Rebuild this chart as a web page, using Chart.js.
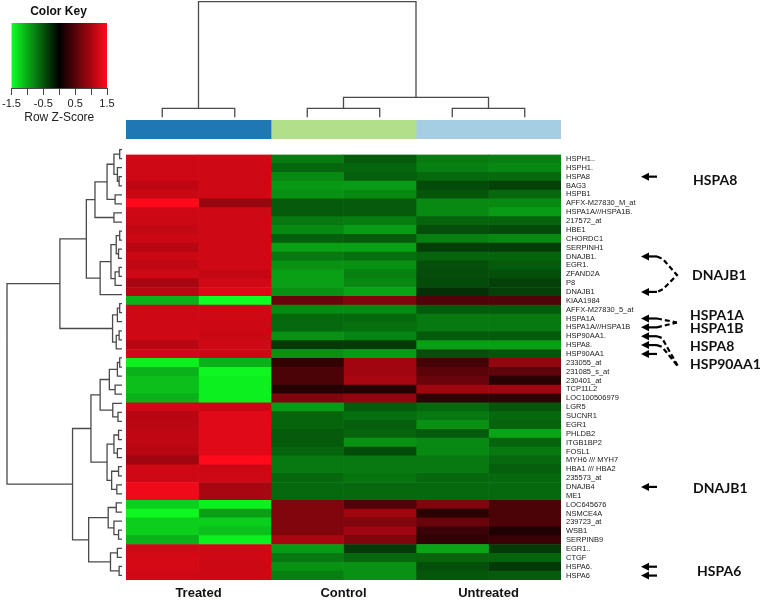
<!DOCTYPE html>
<html>
<head>
<meta charset="utf-8">
<script src="https://cdn.jsdelivr.net/npm/chart.js@4.4.0/dist/chart.umd.min.js"></script>
<style>
  html, body { margin: 0; padding: 0; background: #fff; }
  body { width: 761px; height: 601px; position: relative; overflow: hidden; }
  canvas { position: absolute; }
  #keyChart { left: 0; top: 0; }
  #colTreeChart { left: 126px; top: 0; }
  #groupChart { left: 126px; top: 120px; }
  #rowTreeChart { left: 0; top: 145px; }
  #heatChart { left: 126px; top: 145px; }
</style>
</head>
<body>
<canvas id="keyChart" width="125" height="125"></canvas>
<canvas id="colTreeChart" width="435" height="119"></canvas>
<canvas id="groupChart" width="435" height="19"></canvas>
<canvas id="rowTreeChart" width="126" height="435"></canvas>
<canvas id="heatChart" width="635" height="456"></canvas>
<script>
// gene rows, top to bottom
const rowLabels = ['HSPH1..', 'HSPH1.', 'HSPA8', 'BAG3', 'HSPB1', 'AFFX-M27830_M_at', 'HSPA1A///HSPA1B.',
  '217572_at', 'HBE1', 'CHORDC1', 'SERPINH1', 'DNAJB1.', 'EGR1.', 'ZFAND2A', 'P8', 'DNAJB1', 'KIAA1984',
  'AFFX-M27830_5_at', 'HSPA1A', 'HSPA1A///HSPA1B', 'HSP90AA1.', 'HSPA8.', 'HSP90AA1', '233055_at',
  '231085_s_at', '230401_at', 'TCP11L2', 'LOC100506979', 'LGR5', 'SUCNR1', 'EGR1', 'PHLDB2', 'ITGB1BP2',
  'FOSL1', 'MYH6 /// MYH7', 'HBA1 /// HBA2', '235573_at', 'DNAJB4', 'ME1', 'LOC645676', 'NSMCE4A',
  '239723_at', 'WSB1', 'SERPINB9', 'EGR1..', 'CTGF', 'HSPA6.', 'HSPA6'];

// row z-scores, one array per sample column
const treated1 = [1.22, 1.22, 1.22, 1.12, 1.18, 1.50, 1.22, 1.20, 1.15, 1.20, 1.08, 1.18, 1.12, 1.22, 0.99, 1.08,
  -1.04, 1.22, 1.22, 1.22, 1.22, 1.08, 1.22, -1.41, -1.04, -1.13, -1.13, -1.04, 1.22, 1.08, 1.10, 1.12, 1.12,
  1.08, 0.94, 1.22, 1.22, 1.41, 1.41, -1.22, -1.45, -1.22, -1.22, -1.04, 1.22, 1.25, 1.25, 1.22];
const treated2 = [1.22, 1.22, 1.22, 1.22, 1.22, 0.88, 1.22, 1.22, 1.22, 1.22, 1.22, 1.22, 1.22, 1.15, 1.22, 1.30,
  -1.50, 1.22, 1.22, 1.20, 1.18, 1.22, 1.20, -1.04, -1.45, -1.41, -1.41, -1.41, 1.18, 1.32, 1.32, 1.32, 1.32,
  1.32, 1.50, 1.18, 1.22, 0.99, 0.99, -1.41, -0.94, -1.22, -1.13, -1.41, 1.22, 1.22, 1.20, 1.20];
const control1 = [-0.72, -0.60, -0.81, -0.90, -0.85, -0.53, -0.53, -0.71, -0.81, -0.56, -0.94, -0.71, -0.85, -0.94,
  -0.94, -0.85, 0.62, -0.81, -0.62, -0.62, -0.85, -0.34, -0.85, 0.30, 0.44, 0.44, 0.22, 0.75, -0.91, -0.59,
  -0.59, -0.53, -0.53, -0.59, -0.71, -0.71, -0.62, -0.62, -0.62, 0.75, 0.75, 0.75, 0.75, 0.99, -0.91, -0.71,
  -0.85, -0.75];
const control2 = [-0.53, -0.60, -0.56, -0.91, -0.81, -0.53, -0.53, -0.73, -0.91, -0.53, -0.94, -0.66, -0.85, -0.75,
  -0.81, -0.96, 0.75, -0.81, -0.62, -0.66, -0.78, -0.34, -0.91, 0.94, 0.94, 0.99, 0.22, 0.85, -0.53, -0.66,
  -0.56, -0.59, -0.85, -0.44, -0.71, -0.71, -0.69, -0.62, -0.62, 0.47, 0.94, 0.75, 0.94, 0.75, -0.34, -0.62,
  -0.85, -0.85];
const untreated1 = [-0.72, -0.75, -0.62, -0.44, -0.50, -0.81, -0.81, -0.59, -0.47, -0.75, -0.36, -0.59, -0.47, -0.45,
  -0.44, -0.28, 0.47, -0.53, -0.71, -0.71, -0.53, -0.94, -0.45, 0.40, 0.53, 0.62, 0.94, 0.28, -0.62, -0.71,
  -0.85, -0.53, -0.81, -0.81, -0.71, -0.71, -0.62, -0.62, -0.62, 0.75, 0.25, 0.62, 0.34, 0.28, -0.97, -0.59,
  -0.47, -0.50];
const untreated2 = [-0.75, -0.80, -0.62, -0.38, -0.62, -0.81, -0.91, -0.59, -0.44, -0.81, -0.36, -0.59, -0.53, -0.47,
  -0.38, -0.38, 0.47, -0.53, -0.71, -0.71, -0.53, -0.94, -0.50, 0.85, 0.56, 0.25, 0.94, 0.28, -0.50, -0.62,
  -0.59, -0.97, -0.59, -0.71, -0.62, -0.56, -0.62, -0.62, -0.62, 0.44, 0.44, 0.44, 0.19, 0.34, -0.34, -0.59,
  -0.34, -0.53];
const columns = [treated1, treated2, control1, control2, untreated1, untreated2];

// sample groups
const groupNames = ['Treated', 'Control', 'Untreated'];
const groupSizes = [2, 2, 2];
const groupCenters = [1, 3, 5];
const groupColors = ['#1f78b4', '#b2df8a', '#a6cee3'];

// dendrograms: [height, left, right], leaves are row / column indexes
const rowTree = [100,
  [54,
    [31,
      [23.5,
        [13, [7, [2, 0, 1], [4, 2, [2.5, 3, 4]]], [6, 5, 6]],
        [7, 7, 8]],
      [19,
        [9.6, [5, [2, 9, 10], [3, 11, 12]], [6, [2.5, 13, 14], 15]],
        16]],
    [8.2, [4, [2, 17, 18], 19], [5, [2.5, 20, 21], 22]]],
  [43,
    [27,
      [19, [11, [4, [2, 23, 24], 25], [6, 26, 27]], [8, 28, [3.5, 29, 30]]],
      [13, [7, [3, 31, 32], [4, 33, 34]], [9, [3, 35, 36], [4.5, 37, 38]]]],
    [29,
      [12, [5, 39, 40], [7, 41, [3, 42, 43]]],
      [10, [4, 44, 45], [2.5, 46, 47]]]]];
const colTree = [100, [7.8, 0, 1], [17.3, [7.8, 2, 3], [7.8, 4, 5]]];

// colour key
const keyMin = -1.5, keyMax = 1.5;
const keyStops = [-1.5, 0, 1.5];

// gene callouts on the right
const arrowRows = [2, 11, 15, 18, 19, 20, 21, 22, 37, 46, 47];
const noteLabels = [
  { text: 'HSPA8', row: 2.45, dx: 132 },
  { text: 'DNAJB1', row: 13.1, dx: 131 },
  { text: 'HSPA1A', row: 17.7, dx: 129 },
  { text: 'HSPA1B', row: 19.1, dx: 129 },
  { text: 'HSPA8', row: 21.2, dx: 129 },
  { text: 'HSP90AA1', row: 23.2, dx: 129 },
  { text: 'DNAJB1', row: 37.2, dx: 132 },
  { text: 'HSPA6', row: 46.5, dx: 136 }
];
const noteLinks = [
  [[0, 11], [6, 11.3], [20, 13.1], [6, 14.7], [0, 15]],
  [[0, 18], [20, 18.45]],
  [[0, 19], [20, 18.45]],
  [[0, 20], [5, 20.2], [21, 23.4]],
  [[0, 21], [5, 21.2], [21, 23.4]]
];

Chart.defaults.font.family = '"Liberation Sans", Arial, sans-serif';
Chart.defaults.animation = false;
Chart.defaults.plugins.legend.display = false;
Chart.defaults.plugins.tooltip.enabled = false;

function zColor(z) {
  const t = Math.min(Math.abs(z) / 1.5, 1);
  if (z >= 0) return `rgb(${Math.round(255 * t)},${Math.round(10 * t)},${Math.round(26 * t)})`;
  return `rgb(${Math.round(14 * t)},${Math.round(255 * t)},${Math.round(34 * t)})`;
}

// walk a tree and collect the bracket polylines, null breaks the line
function treeLines(node, pts) {
  if (typeof node === 'number') return { pos: node, h: 0 };
  const [h, a, b] = node;
  const l = treeLines(a, pts);
  const r = treeLines(b, pts);
  pts.push({ h: l.h, p: l.pos }, { h: h, p: l.pos }, { h: h, p: r.pos }, { h: r.h, p: r.pos }, null);
  return { pos: (l.pos + r.pos) / 2, h: h };
}

// Color key
function keyGradient(chart) {
  const a = chart.chartArea;
  if (!a) return null;
  const g = chart.ctx.createLinearGradient(a.left, 0, a.right, 0);
  keyStops.forEach(z => g.addColorStop((z - keyMin) / (keyMax - keyMin), zColor(z)));
  return g;
}

new Chart(document.getElementById('keyChart'), {
  type: 'bar',
  data: {
    labels: [''],
    datasets: [{
      data: [[keyMin, keyMax]],
      backgroundColor: ctx => keyGradient(ctx.chart),
      borderWidth: 0,
      barPercentage: 1,
      categoryPercentage: 1
    }]
  },
  options: {
    indexAxis: 'y',
    responsive: false,
    layout: { padding: { left: 10, right: 18 } },
    plugins: {
      title: {
        display: true,
        text: 'Color Key',
        color: '#111',
        font: { size: 12, weight: 'bold' },
        padding: { top: 4, bottom: 4.6 }
      }
    },
    scales: {
      x: {
        type: 'linear',
        min: keyMin,
        max: keyMax,
        grid: { drawOnChartArea: false, drawTicks: true, tickLength: 7, color: '#444' },
        border: { display: true, color: '#444' },
        ticks: {
          stepSize: 0.5,
          autoSkip: false,
          maxRotation: 0,
          padding: 2,
          color: '#222',
          font: { size: 11 },
          callback: v => (Math.abs(Math.round(v * 2)) % 2 === 1 ? v.toFixed(1) : '')
        },
        title: { display: true, text: 'Row Z-Score', color: '#222', font: { size: 12 }, padding: 0 },
        afterFit: s => { s.height = 37; }
      },
      y: { display: false }
    }
  }
});

// Column dendrogram
const colPts = [];
treeLines(colTree, colPts);
new Chart(document.getElementById('colTreeChart'), {
  type: 'scatter',
  data: {
    datasets: [{
      data: colPts.map(q => (q ? { x: q.p, y: q.h } : { x: null, y: null })),
      showLine: true,
      spanGaps: false,
      borderColor: '#4a4a4a',
      borderWidth: 1.3,
      pointRadius: 0,
      clip: false
    }]
  },
  options: {
    responsive: false,
    layout: { padding: { top: 1.7, bottom: 1.7 } },
    scales: {
      x: { type: 'linear', min: -0.5, max: 5.5, display: false },
      y: { type: 'linear', min: 0, max: 100, display: false }
    }
  }
});

// Group colour bar
new Chart(document.getElementById('groupChart'), {
  type: 'bar',
  data: {
    labels: ['group'],
    datasets: groupNames.map((g, i) => ({
      label: g,
      data: [groupSizes[i]],
      backgroundColor: groupColors[i],
      borderWidth: 0,
      barPercentage: 1,
      categoryPercentage: 1
    }))
  },
  options: {
    indexAxis: 'y',
    responsive: false,
    scales: {
      x: { stacked: true, min: 0, max: 6, display: false },
      y: { stacked: true, display: false }
    }
  }
});

// Row dendrogram
const rowPts = [];
treeLines(rowTree, rowPts);
new Chart(document.getElementById('rowTreeChart'), {
  type: 'scatter',
  data: {
    datasets: [{
      data: rowPts.map(q => (q ? { x: q.h, y: q.p } : { x: null, y: null })),
      showLine: true,
      spanGaps: false,
      borderColor: '#4a4a4a',
      borderWidth: 1.3,
      pointRadius: 0,
      clip: false
    }]
  },
  options: {
    responsive: false,
    layout: { padding: { left: 7, right: 4 } },
    scales: {
      x: { type: 'linear', min: 0, max: 100, reverse: true, display: false },
      y: { type: 'linear', min: -0.5, max: rowLabels.length - 0.5, reverse: true, display: false }
    }
  }
});

// Heatmap with callouts
function drawArrow(ctx, head, tail, yy) {
  ctx.beginPath();
  ctx.moveTo(head + 6, yy);
  ctx.lineTo(tail, yy);
  ctx.stroke();
  ctx.beginPath();
  ctx.moveTo(head, yy);
  ctx.lineTo(head + 8, yy - 4);
  ctx.lineTo(head + 8, yy + 4);
  ctx.closePath();
  ctx.fill();
}

const calloutPlugin = {
  id: 'callouts',
  afterDraw(chart) {
    const { ctx, chartArea, scales } = chart;
    const y = scales.y;
    const head = chartArea.right + 80;
    const tail = chartArea.right + 96;
    ctx.save();
    ctx.strokeStyle = '#000';
    ctx.fillStyle = '#000';
    ctx.lineWidth = 2.2;
    arrowRows.forEach(r => drawArrow(ctx, head, tail, y.getPixelForValue(r)));
    ctx.setLineDash([5, 3]);
    noteLinks.forEach(link => {
      ctx.beginPath();
      link.forEach(([dx, r], i) => {
        const px = tail + dx, py = y.getPixelForValue(r);
        if (i === 0) ctx.moveTo(px, py); else ctx.lineTo(px, py);
      });
      ctx.stroke();
    });
    ctx.setLineDash([]);
    ctx.font = 'bold 14px Lato, "Liberation Sans", sans-serif';
    ctx.textBaseline = 'middle';
    ctx.textAlign = 'left';
    ctx.fillStyle = '#111';
    noteLabels.forEach(n => ctx.fillText(n.text, chartArea.right + n.dx, y.getPixelForValue(n.row)));
    ctx.restore();
  }
};

new Chart(document.getElementById('heatChart'), {
  type: 'bar',
  data: {
    labels: rowLabels,
    datasets: columns.map((col, c) => ({
      label: groupNames[Math.floor(c / 2)],
      data: col.map(() => 1),
      backgroundColor: col.map(zColor),
      borderWidth: 0,
      barPercentage: 1,
      categoryPercentage: 1
    }))
  },
  options: {
    indexAxis: 'y',
    responsive: false,
    scales: {
      x: {
        type: 'linear',
        stacked: true,
        min: 0,
        max: 6,
        grid: { display: false, drawTicks: false },
        border: { display: false },
        afterBuildTicks: s => { s.ticks = groupCenters.map(v => ({ value: v })); },
        ticks: {
          padding: 6,
          color: '#111',
          font: { size: 13, weight: 'bold' },
          callback: (v, i) => groupNames[i]
        },
        afterFit: s => { s.height = 21; }
      },
      y: {
        position: 'right',
        stacked: true,
        grid: { display: false, drawTicks: false },
        border: { display: false },
        ticks: { autoSkip: false, padding: 5, color: '#222', font: { size: 7.5 } },
        afterFit: s => { s.width = 200; }
      }
    }
  },
  plugins: [calloutPlugin]
});
</script>
</body>
</html>
